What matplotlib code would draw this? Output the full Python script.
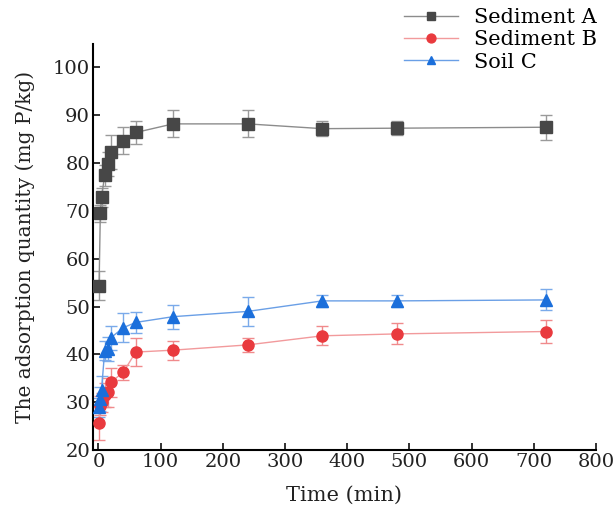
import matplotlib.pyplot as plt

plt.rcParams['font.family'] = ['DejaVu Serif']

time = [1, 3, 5, 10, 15, 20, 40, 60, 120, 240, 360, 480, 720]

sed_a = [54.4, 69.5, 72.9, 77.5, 79.9, 82.3, 84.7, 86.4, 88.2, 88.2, 87.2, 87.3, 87.5]
sed_a_err = [3.0, 1.8, 2.0, 2.2, 2.5, 3.5, 2.8, 2.5, 2.8, 2.8, 1.5, 1.5, 2.6]

sed_b = [25.7, 29.3, 30.0, 31.5, 32.1, 34.2, 36.3, 40.5, 40.9, 42.0, 43.9, 44.3, 44.8]
sed_b_err = [3.5, 2.0, 2.0, 2.5, 3.0, 3.0, 1.6, 3.0, 2.0, 1.5, 2.0, 2.2, 2.5]

soil_c = [29.0, 30.6, 32.6, 40.8, 41.2, 43.5, 45.6, 46.7, 47.9, 49.0, 51.2, 51.2, 51.4]
soil_c_err = [2.0, 2.5, 3.0, 2.0, 2.5, 2.5, 3.0, 2.2, 2.5, 3.0, 1.3, 1.3, 2.2]

series = [
    ("Sediment A", sed_a, sed_a_err, "s", "#474747", "#8c8c8c", "#9a9a9a"),
    ("Sediment B", sed_b, sed_b_err, "o", "#e93a3e", "#f29a9c", "#f08a8c"),
    ("Soil C", soil_c, soil_c_err, "^", "#1b6fdb", "#6a9fe6", "#7aaaea"),
]

fig = plt.figure(figsize=(6.15, 5.18), dpi=100)
ax = fig.add_axes([0.151, 0.131, 0.818, 0.785])

for name, y, err, mk, mcol, lcol, ecol in series:
    ax.errorbar(time, y, yerr=err, fmt="none", ecolor=ecol, elinewidth=1.0,
                capsize=4, capthick=1.0, zorder=2)
    ax.plot(time, y, color=lcol, lw=1.0, marker=mk, markersize=8,
            markerfacecolor=mcol, markeredgecolor=mcol, label=name, zorder=3)

ax.set_xlim(-9, 800)
ax.set_ylim(20, 105)
ax.set_xticks(range(0, 801, 100))
ax.set_yticks(range(20, 101, 10))
ax.spines['top'].set_visible(False)
ax.spines['right'].set_visible(False)
ax.spines['left'].set_linewidth(1.5)
ax.spines['bottom'].set_linewidth(1.5)
ax.tick_params(direction='in', length=5, width=1.3, labelsize=14, colors='#222222',
               pad=2)

ax.set_xlabel("Time (min)", fontsize=15, color='#222222', labelpad=11)
ax.set_ylabel("The adsorption quantity (mg P/kg)", fontsize=14.5, color='#222222',
              labelpad=13)

fig.legend(loc='upper right', bbox_to_anchor=(0.995, 1.012), frameon=False,
           fontsize=15, handlelength=2.6, labelspacing=0.15, borderpad=0.2,
           handletextpad=0.8, markerscale=0.8)

fig.savefig("out.png", dpi=100)
